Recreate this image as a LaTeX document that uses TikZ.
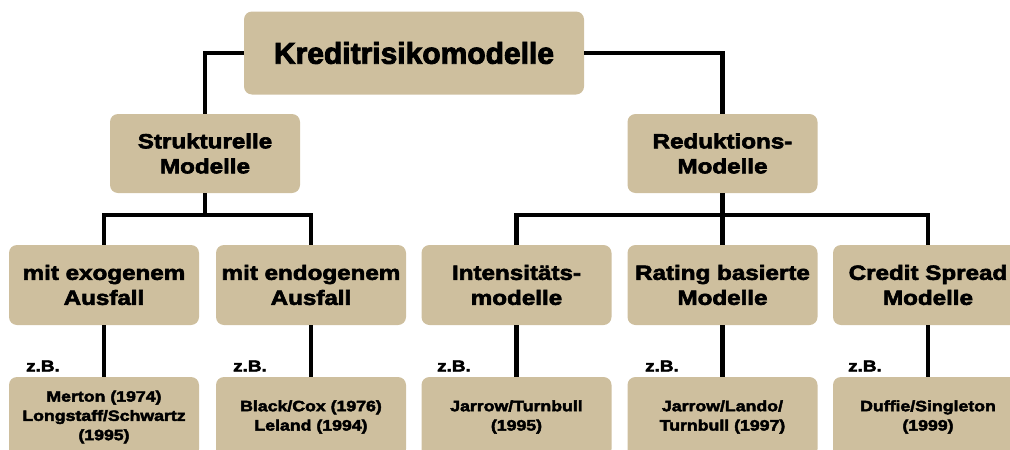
\documentclass[tikz,border=0pt]{standalone}
\usepackage{fontspec}
\newfontfamily\titlefont{Liberation Sans Bold}[FakeBold=3]
\newfontfamily\widefont{Liberation Sans Bold}[FakeStretch=1.18,FakeBold=3]
\definecolor{boxtan}{HTML}{CEBF9E}
\tikzset{
  box/.style={fill=boxtan, rounded corners=8pt, draw=none, align=center,
    inner sep=0pt, text=black},
  rootbox/.style={box, minimum width=340pt, minimum height=83pt,
    font=\titlefont\fontsize{30}{34}\selectfont},
  midbox/.style={box, minimum width=190pt, minimum height=80pt,
    font=\widefont\fontsize{20.5}{25}\selectfont},
  leafbox/.style={box, minimum width=190pt, minimum height=80pt,
    font=\widefont\fontsize{15}{19.3}\selectfont},
  eg/.style={anchor=west, inner sep=0pt, font=\widefont\fontsize{16}{18}\selectfont},
  link/.style={line width=4.5pt, draw=black}
}
\begin{document}
\begin{tikzpicture}[x=1pt,y=-1pt]
\path[use as bounding box] (0,0) rectangle (1010,450);
\clip (0,0) rectangle (1010,450);

% root
\node[rootbox] (root) at (414,53) {Kreditrisikomodelle};

% first level
\node[midbox, minimum height=79pt] (struct) at (205,153.5) {Strukturelle\\Modelle};
\node[midbox, minimum height=79pt] (reduk) at (722.5,153.5) {Reduktions-\\Modelle};

% second level
\node[midbox] (exo) at (104,285) {mit exogenem\\Ausfall};
\node[midbox] (endo) at (311,285) {mit endogenem\\Ausfall};
\node[midbox] (inten) at (516.5,285) {Intensitäts-\\modelle};
\node[midbox] (rating) at (722.5,285) {Rating basierte\\Modelle};
\node[midbox] (spread) at (928,285) {Credit Spread\\Modelle};

% examples
\node[leafbox] (l1) at (104,417) {Merton (1974)\\Longstaff/Schwartz\\(1995)};
\node[leafbox] (l2) at (311,417) {Black/Cox (1976)\\Leland (1994)};
\node[leafbox] (l3) at (516.5,417) {Jarrow/Turnbull\\(1995)};
\node[leafbox] (l4) at (722.5,417) {Jarrow/Lando/\\Turnbull (1997)};
\node[leafbox] (l5) at (928,417) {Duffie/Singleton\\(1999)};

\node[eg] (zb1) at (26,366) {z.B.};
\node[eg] (zb2) at (233,366) {z.B.};
\node[eg] (zb3) at (437,366) {z.B.};
\node[eg] (zb4) at (645,366) {z.B.};
\node[eg] (zb5) at (848,366) {z.B.};

% junction points
\coordinate (sj) at (205,215);
\coordinate (rj) at (722.5,215);

% connectors
\draw[link] (root.west) -| (struct.north);
\draw[link] (root.east) -| (reduk.north);

\draw[link] (struct.south) -- (sj);
\draw[link] (exo.north) |- (sj) -| (endo.north);

\draw[link] (reduk.south) -- (rj);
\draw[link] (inten.north) |- (rj) -| (spread.north);
\draw[link] (rating.north) -- (rj);

\draw[link] (exo.south) -- (l1.north);
\draw[link] (endo.south) -- (l2.north);
\draw[link] (inten.south) -- (l3.north);
\draw[link] (rating.south) -- (l4.north);
\draw[link] (spread.south) -- (l5.north);
\end{tikzpicture}
\end{document}
